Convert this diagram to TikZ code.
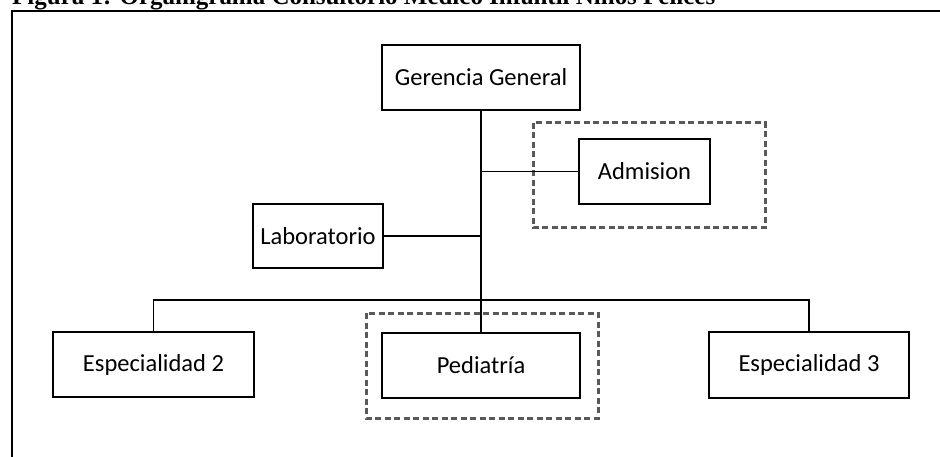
\documentclass[tikz,border=0pt]{standalone}
\usepackage{fontspec}
\setmainfont{Carlito}
\newfontfamily\titlefont{Liberation Serif}
\usepackage{graphicx}
\begin{document}
\begin{tikzpicture}[x=1pt,y=-1pt,
  box/.style={draw=black, line width=1.9pt, fill=white, inner sep=0pt, font=\fontsize{24.5}{28}\selectfont},
  link/.style={draw=black, line width=1.8pt},
  dotbox/.style={draw=black!65, line width=3pt, dash pattern=on 6pt off 3.5pt},
  frame/.style={draw=black, line width=1.8pt}]
\useasboundingbox (0,0) rectangle (940,457);
% title (partly cut off at the top)
\node[anchor=base west, inner sep=0pt] (title) at (12,4.5) {\resizebox{703pt}{!}{\titlefont\bfseries Figura 1: Organigrama Consultorio Medico Infantil Niños Felices}};
% frame
\coordinate (fbl) at (12,457);
\coordinate (ftl) at (12,11);
\coordinate (ftr) at (940,11);
\draw[frame] (fbl) -- (ftl) -- (ftr);
% dotted groups
\draw[dotbox] (533,123) rectangle (765,228);
\draw[dotbox] (366,313) rectangle (598,418);
% boxes
\node[box, minimum width=198pt, minimum height=65pt] (ger) at (481,77.5) {Gerencia General};
\node[box, minimum width=131pt, minimum height=65pt] (adm) at (644.5,171.5) {Admision};
\node[box, minimum width=130pt, minimum height=64pt] (lab) at (318,236) {Laboratorio};
\node[box, minimum width=201pt, minimum height=65pt] (e2) at (153.5,364.5) {Especialidad 2};
\node[box, minimum width=198pt, minimum height=65pt] (ped) at (481,365.5) {Pediatría};
\node[box, minimum width=200pt, minimum height=66pt] (e3) at (809,365) {Especialidad 3};
% connectors
\coordinate (jb) at (481,300);
\draw[link] (ger.south) -- (ped.north);
\draw[link] (ger.south |- adm.west) -- (adm.west);
\draw[link] (lab.east) -- (ger.south |- lab.east);
\draw[link] (e2.north) |- (jb) -| (e3.north);
\end{tikzpicture}
\end{document}
